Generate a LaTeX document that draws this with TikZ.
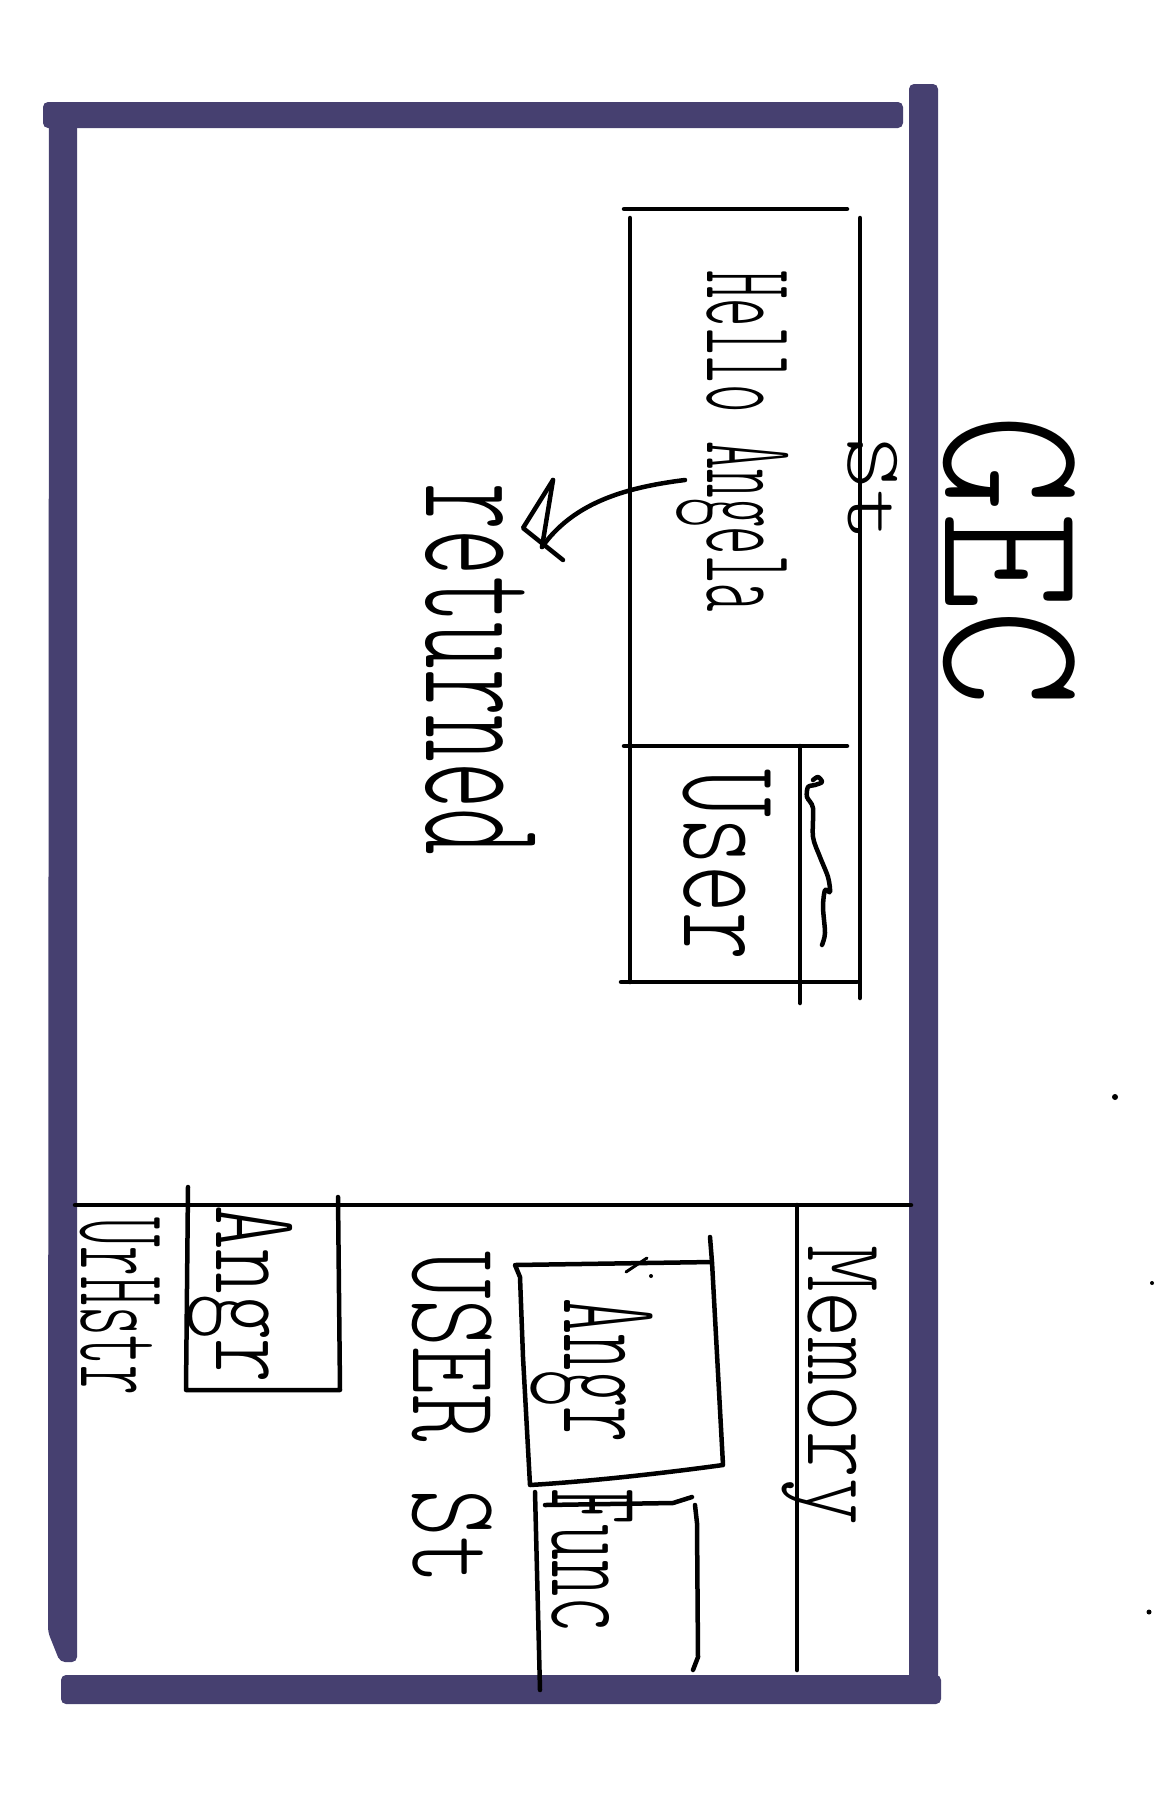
\documentclass[tikz,border=0pt]{standalone}
\usepackage{fontspec}
\setmainfont{Liberation Sans}
\usepackage{graphicx}
\definecolor{framecol}{RGB}{70,64,112}
\tikzset{
  frame/.style={fill=framecol, rounded corners=5pt},
  ink/.style={draw=black, line width=4.5pt, line cap=round, line join=round},
  hand/.style={rotate=-90, inner sep=0pt, outer sep=0pt, text=black, font=\ttfamily\fontseries{l}\selectfont},
  inkdot/.style={fill=black}
}
\begin{document}
\begin{tikzpicture}[x=1pt,y=-1pt]
\useasboundingbox (0,0) rectangle (1158,1820);
\fill[white] (0,0) rectangle (1158,1820);
% frame
\fill[frame] (43,102) rectangle (903,128);
\fill[frame] (49,120) -- (77,120) -- (77,1662) -- (60,1662) -- (48,1632) -- cycle;
\fill[frame] (909,84) rectangle (938,1690);
\fill[frame] (61,1675) rectangle (941,1704);

% labels
\node[hand] (gec) at (1009,561) {\resizebox*{293pt}{132pt}{GEC}};
\node[hand] (hello) at (733,441) {\resizebox*{342pt}{112pt}{Hello Angela}};
\node[hand] (returned) at (480,669) {\resizebox*{372pt}{110pt}{returned}};
\node[hand] (user) at (727,865) {\resizebox*{191pt}{88pt}{User}};
\node[hand] (st) at (873,489) {\resizebox*{104pt}{50pt}{St}};
\node[hand] (memory) at (830,1385) {\resizebox*{280pt}{95pt}{Memory}};
\node[hand] (userst) at (452,1418) {\resizebox*{333pt}{80pt}{USER St}};
\node[hand] (angbig) at (592,1370) {\resizebox*{144pt}{122pt}{Angr}};
\node[hand] (func) at (592,1560) {\resizebox*{144pt}{81pt}{Func}};
\node[hand] (varlist) at (120,1306) {\resizebox*{178pt}{80pt}{UrHstr}};
\node[hand] (angsmall) at (240,1294) {\resizebox*{178pt}{105pt}{Angr}};

% Hello box
\draw[ink] (624,209) -- (847,209);
\draw[ink] (630,218) -- (630,982);
\draw[ink] (860,218) -- (860,998);
\draw[ink] (624,746) -- (847,746);
\draw[ink] (621,982) -- (857,982);
\draw[ink] (800,746) -- (800,1003);
\draw[ink] plot[smooth] coordinates {(813,780) (818,777) (822,782) (815,785) (808,787) (807,797) (813,808) (813,837) (820,857) (828,877) (830,892) (825,890) (823,907) (825,933) (822,945)};

% returned arrow
\coordinate (arrS) at (685,480);
\coordinate (arrT) at (542,547);
\coordinate (headA) at (553,480);
\coordinate (headB) at (523,528);
\coordinate (headC) at (563,560);
\draw[ink] (arrS) .. controls (620,488) and (572,505) .. (arrT);
\draw[ink] (headA) -- (arrT);
\draw[ink] (headA) -- (headB) -- (headC);

% memory area
\draw[ink] (75,1205) -- (911,1205);
\draw[ink] (797,1205) -- (797,1670);
% small box
\draw[ink] (188,1187) -- (186,1390) -- (340,1390) -- (338,1197);
% big box
\draw[ink] (710,1237) -- (712,1262) -- (723,1465) .. controls (650,1475) and (580,1482) .. (530,1485) -- (523,1357) -- (520,1277) -- (515,1265) -- (712,1262);
\draw[ink, line width=3pt] (626,1272) -- (647,1258);
\fill[inkdot] (651,1276) circle (2);
% func box
\draw[ink] (535,1492) -- (540,1690);
\draw[ink] (545,1505) -- (673,1503) -- (692,1497);
\draw[ink] (695,1505) -- (697,1523) -- (698,1657) -- (693,1670);

% dots
\fill[inkdot] (1115,1097) circle (3);
\fill[inkdot] (1152,1283) circle (2);
\fill[inkdot] (1149,1612) circle (2.5);
\end{tikzpicture}
\end{document}
